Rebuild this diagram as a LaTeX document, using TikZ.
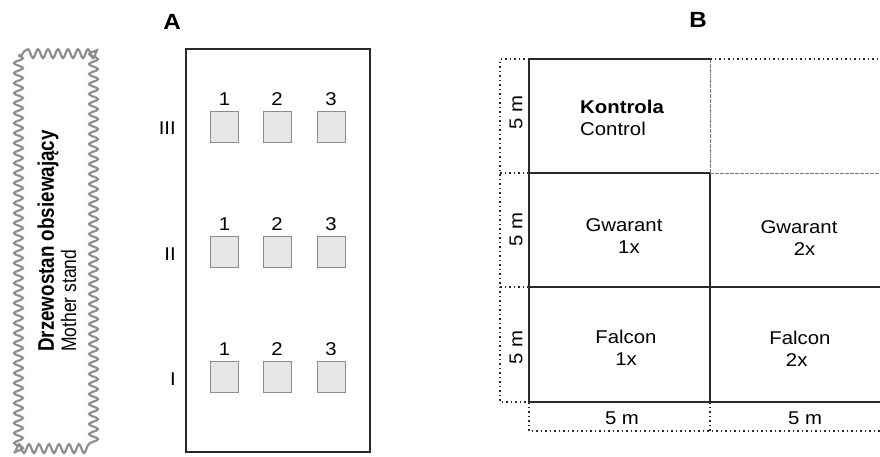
\documentclass[tikz,border=0pt]{standalone}
\usepackage{fontspec}
\setmainfont{Liberation Sans}
\usepackage{tikz}
\usetikzlibrary{positioning,decorations.pathmorphing}
\definecolor{cLine}{HTML}{2A2A2A}
\definecolor{cPlot}{HTML}{E6E6E6}
\definecolor{cPlotEdge}{HTML}{8C8C8C}
\definecolor{cStand}{HTML}{8E8E8E}
\definecolor{cFaint}{HTML}{7A7A7A}
\tikzset{
  txt/.style={font=\fontsize{18.5}{22}\selectfont, xscale=1.1, text=black,
              inner sep=0pt, align=center},
  panel/.style={font=\fontsize{22}{26}\selectfont\bfseries, xscale=1.1, inner sep=0pt},
  plot/.style={draw=cPlotEdge, fill=cPlot, line width=1pt, inner sep=0pt,
               minimum width=28pt, minimum height=31pt},
  field/.style={draw=cLine, line width=1.4pt},
  faint/.style={draw=cFaint, line width=1pt, dash pattern=on 4pt off 1pt},
  dim/.style={draw=cLine, line width=1.1pt, dash pattern=on 1.5pt off 3pt},
  stand/.style={draw=cStand, line width=2.2pt, decorate,
                decoration={snake, segment length=10pt, amplitude=4.5pt}},
}
\begin{document}
\begin{tikzpicture}[x=1pt, y=-1pt]
  \useasboundingbox (0,0) rectangle (880,456);

  % mother stand
  \draw[stand] (18.5,55) rectangle (96.5,449);
  \node[rotate=90, yscale=1.2, inner sep=0pt, align=left,
        font=\fontsize{17.5}{18.5}\selectfont] (stand) at (57,241)
    {{\fontsize{18.8}{18.5}\selectfont\bfseries Drzewostan obsiewający}\\Mother stand};

  % panel A: blocks I--III with plots 1--3
  \node[panel] (labA) at (172,22) {A};
  \draw[field] (186,49) rectangle (370,452);
  \foreach \r/\y/\n in {1/377/I, 2/252/II, 3/126.5/III} {
    \node[txt, anchor=east] (row\r) at (176,\y+2) {\n};
    \foreach \c/\x in {1/224.5, 2/277, 3/331} {
      \node[plot] (plot\r\c) at (\x,\y) {};
      \node[txt, above=5pt of plot\r\c] (num\r\c) {\c};
    }
  }

  % panel B: treatment plots
  \node[panel] (labB) at (698,20) {B};
  \draw[field] (529,59) -- (710,59);
  \draw[field] (529,59) -- (529,402);
  \draw[field] (710,173) -- (710,402);
  \draw[field] (529,173) -- (710,173);
  \draw[field] (529,287) -- (880,287);
  \draw[field] (529,402) -- (880,402);
  \draw[faint] (710,59) -- (710,173);
  \draw[faint] (710,173) -- (880,173);

  % dimension lines
  \draw[dim] (529,59) -- (500,59) -- (500,402) -- (529,402);
  \draw[dim] (500,173) -- (529,173);
  \draw[dim] (500,287) -- (529,287);
  \draw[dim] (710,59) -- (880,59);
  \draw[dim] (529,402) -- (529,431) -- (880,431);
  \draw[dim] (710,402) -- (710,431);

  \foreach \i/\y in {1/112.5, 2/229.5, 3/347.5}
    \node[rotate=90, txt] (dimv\i) at (516,\y) {5 m};
  \node[txt] (dimh1) at (622,418) {5 m};
  \node[txt] (dimh2) at (805,418) {5 m};

  % treatments
  \node[txt, align=left, anchor=west] (ctrl) at (580,118) {\textbf{Kontrola}\\Control};
  \node[txt] (gw1) at (624,236) {Gwarant\\\hspace*{9pt}1x};
  \node[txt] (gw2) at (799,238.5) {Gwarant\\\hspace*{10pt}2x};
  \node[txt] (fa1) at (626,347.5) {Falcon\\1x};
  \node[txt] (fa2) at (800,349) {Falcon\\\hspace*{-6pt}2x};
\end{tikzpicture}
\end{document}
